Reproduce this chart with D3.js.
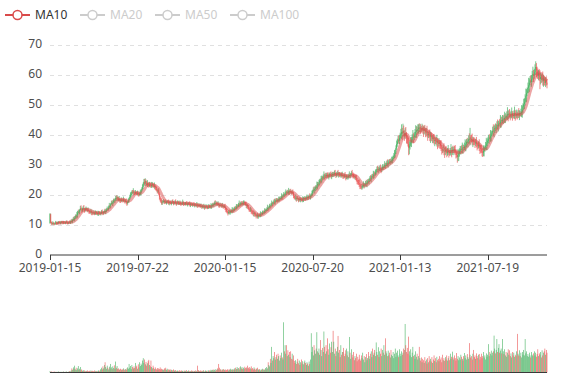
<!DOCTYPE html>
<html>
<head>
<meta charset="utf-8">
<script src="https://cdn.jsdelivr.net/npm/d3@7/dist/d3.min.js"></script>
<style>
  html, body { margin: 0; padding: 0; background: #fff; }
  svg { display: block; font-family: "Noto Sans", "DejaVu Sans", sans-serif; }
</style>
</head>
<body>
<svg id="chart" width="577" height="380"></svg>
<script>
// ---------- data ----------
const startDate = "2019-01-15";
const holidays = [
  "2019-02-04","2019-02-05","2019-02-06","2019-02-07","2019-02-08","2019-04-05",
  "2019-05-01","2019-05-02","2019-05-03","2019-06-07","2019-10-01","2019-12-25",
  "2020-01-01","2020-01-24","2020-01-27","2020-01-28","2020-01-29","2020-01-30",
  "2020-01-31","2020-04-06","2020-05-01","2020-06-25","2020-10-01","2020-10-02",
  "2021-01-01","2021-02-11","2021-02-12","2021-02-15","2021-02-16","2021-02-17",
  "2021-04-05","2021-05-03","2021-05-04","2021-05-05","2021-09-20","2021-09-21",
  "2021-10-01","2021-10-04","2021-10-05","2021-10-06","2021-10-07"
];
const tickLabels = ["2019-01-15","2019-07-22","2020-01-15","2020-07-20","2021-01-13","2021-07-19"];
const priceTicks = [0,10,20,30,40,50,60,70];
const legendNames = ["MA10","MA20","MA50","MA100"];
const activeLegend = ["MA10"];

const closePrices = [
13.5,10.6,10.4,10.2,10.5,10.3,10.1,10.4,10.6,10.5,
10.3,10.6,10.8,10.7,10.5,10.6,10.9,10.7,10.6,10.8,
10.6,10.5,10.7,10.9,10.6,10.4,10.6,10.8,
10.7,10.9,11.2,11.0,11.5,11.9,11.7,12.3,12.8,12.6,13.2,13.9,
14.3,14.0,14.8,15.4,15.1,14.7,15.2,15.5,15.0,14.8,15.1,15.3,14.9,14.6,14.8,14.4,
14.2,14.0,14.3,13.9,13.7,14.0,13.8,13.6,13.9,14.1,13.8,13.5,13.7,14.0,13.8,13.6,13.9,14.2,14.0,13.8,14.1,14.4,14.2,
14.6,14.9,15.3,15.1,15.7,16.2,16.0,16.8,17.2,16.9,17.5,18.0,17.7,18.3,18.8,18.5,19.1,
18.6,18.2,18.5,18.0,17.8,18.3,18.1,17.9,18.4,18.0,17.6,17.8,17.3,17.1,17.5,
18.0,18.6,19.2,19.8,20.3,20.9,20.6,21.0,20.7,20.4,20.8,20.5,20.1,20.4,20.2,19.9,20.3,20.6,21.2,21.8,
22.5,23.4,24.2,23.6,24.5,23.8,23.2,23.7,23.3,22.9,23.4,23.1,22.7,23.2,23.5,23.0,22.6,22.9,22.4,21.9,
21.5,21.0,21.3,20.2,19.1,18.3,17.6,17.3,17.7,17.5,
17.8,17.4,17.6,17.3,17.5,17.7,17.4,17.2,17.5,17.3,17.0,17.3,17.6,17.4,17.1,17.3,17.5,17.2,17.0,17.2,
17.4,17.1,16.9,17.2,17.0,16.8,17.1,17.3,17.0,16.8,16.9,17.2,17.0,16.7,16.9,17.1,16.8,16.6,16.9,16.7,
16.5,16.8,16.6,16.4,16.7,16.5,16.3,16.6,16.4,16.2,16.5,16.3,16.0,16.2,15.9,
16.1,15.8,16.0,15.7,15.9,16.1,15.8,15.6,15.9,16.2,16.0,15.8,16.1,16.3,16.6,16.4,16.8,17.1,16.9,17.2,
17.0,16.7,16.9,16.5,16.2,16.5,16.3,16.0,16.4,16.1,15.8,16.0,
15.5,15.0,14.6,14.0,13.8,14.2,13.9,14.1,14.5,14.3,14.8,15.0,14.7,15.2,15.6,15.4,15.9,16.3,16.1,16.6,16.9,16.7,17.1,
16.8,17.2,16.9,17.1,17.4,17.0,16.6,16.2,16.4,15.8,15.3,15.0,14.7,14.9,14.4,14.0,13.7,13.5,13.8,13.3,13.0,12.8,13.1,12.6,12.9,
13.2,13.0,13.4,13.7,13.5,13.9,14.2,14.0,14.5,14.8,14.6,15.1,15.5,15.3,15.8,16.2,16.0,16.6,17.0,16.8,
17.3,17.6,17.4,17.9,18.2,17.9,18.3,18.0,18.4,18.7,18.5,18.9,19.3,19.1,19.6,20.0,19.8,20.3,20.7,20.5,21.0,
20.6,21.1,20.8,21.2,20.9,20.6,20.8,20.3,19.6,19.0,18.7,18.9,18.5,18.8,18.4,18.1,18.4,18.2,18.5,18.3,
18.1,18.4,18.7,18.5,18.8,18.6,18.9,19.1,18.9,19.2,19.4,19.2,19.5,19.8,
20.4,21.0,21.6,21.3,21.9,22.4,22.2,23.0,23.5,23.3,24.0,24.6,24.3,25.0,25.6,25.4,25.9,26.3,26.1,26.4,
26.2,26.6,26.3,26.0,26.4,26.7,26.5,26.2,26.5,26.8,26.6,26.9,27.1,26.8,26.5,26.8,27.0,26.7,26.9,26.6,
26.4,26.7,26.3,26.5,26.2,26.0,26.3,26.1,25.8,26.0,25.7,25.9,26.2,26.5,26.3,26.7,27.0,26.8,26.5,26.1,
25.8,25.9,25.4,24.9,24.5,24.1,23.8,23.4,23.0,22.7,22.4,22.6,
22.9,23.2,23.0,23.4,23.7,23.5,24.0,24.4,24.2,24.8,25.3,25.1,25.7,26.2,26.0,26.6,27.0,26.8,27.4,27.9,
28.4,28.1,28.6,28.3,28.8,28.5,28.2,28.7,29.1,28.9,29.4,29.8,29.5,30.0,30.4,30.1,30.6,30.9,30.7,31.2,
31.0,31.4,31.8,32.3,32.9,33.4,34.2,35.5,36.8,37.6,38.3,37.9,38.8,39.5,
40.1,40.8,40.3,41.2,40.5,39.6,40.4,39.8,38.9,38.2,36.8,35.6,36.3,36.9,37.4,38.1,38.6,39.3,39.0,39.8,
40.3,40.9,41.5,41.1,41.8,42.3,41.9,42.4,42.0,41.6,42.1,41.7,41.3,41.8,
41.2,40.7,40.9,40.3,39.8,40.1,39.6,39.3,39.7,39.1,38.6,38.9,38.3,37.9,38.2,37.8,37.4,37.7,37.2,36.9,
37.3,36.8,36.2,35.6,35.1,34.7,35.0,34.5,34.3,34.8,34.4,33.9,34.3,34.6,34.1,33.8,34.2,34.7,34.4,34.9,
34.6,35.0,34.7,34.3,33.8,33.2,32.5,33.1,33.7,34.3,
34.8,35.2,34.9,35.4,35.8,35.5,36.0,36.3,36.9,37.5,37.2,37.9,38.4,38.1,39.0,38.6,38.2,37.8,38.1,37.6,
37.3,37.0,37.4,36.8,36.5,36.1,36.4,35.9,35.5,35.1,34.6,34.2,33.9,34.5,35.1,35.7,36.2,36.8,37.3,37.9,
38.4,39.0,38.7,39.5,40.1,40.6,41.2,41.0,41.7,42.2,42.0,42.6,43.1,42.8,43.5,43.9,43.7,44.3,44.8,44.5,
45.0,45.3,45.0,45.6,46.0,45.7,46.3,46.8,46.5,47.0,46.7,46.3,46.6,46.9,46.5,46.2,46.6,47.0,46.7,46.4,
46.8,46.5,46.9,46.6,47.1,46.8,47.2,47.6,48.3,49.2,
50.1,50.9,51.8,52.9,53.8,54.6,55.5,56.4,57.2,58.0,57.5,58.6,59.5,60.2,59.6,60.8,61.6,62.5,61.4,60.3,
59.6,60.4,59.1,58.5,59.3,58.2,58.8,57.9,58.6,57.6,57.2,58.1,57.3,56.6
];

const openPrices = [
10.4,13.4,10.7,10.4,10.2,10.5,10.3,10.1,10.4,10.6,
10.5,10.3,10.6,10.8,10.7,10.5,10.6,10.9,10.7,10.6,
10.8,10.6,10.5,10.7,10.9,10.6,10.4,10.6,
10.8,10.7,10.9,11.2,11.0,11.5,11.9,11.7,12.3,12.8,12.6,13.2,
13.9,14.3,14.0,14.8,15.4,15.1,14.7,15.2,15.5,15.0,14.8,15.1,15.3,14.9,14.6,14.8,
14.4,14.2,14.0,14.3,13.9,13.7,14.0,13.8,13.6,13.9,14.1,13.8,13.5,13.7,14.0,13.8,13.6,13.9,14.2,14.0,13.8,14.1,14.4,
14.2,14.6,14.9,15.3,15.1,15.7,16.2,16.0,16.8,17.2,16.9,17.5,18.0,17.7,18.3,18.8,18.5,
19.1,18.6,18.2,18.5,18.0,17.8,18.3,18.1,17.9,18.4,18.0,17.6,17.8,17.3,17.1,
17.5,18.0,18.6,19.2,19.8,20.3,20.9,20.6,21.0,20.7,20.4,20.8,20.5,20.1,20.4,20.2,19.9,20.3,20.6,21.2,
21.8,22.5,23.4,24.2,23.6,24.5,23.8,23.2,23.7,23.3,22.9,23.4,23.1,22.7,23.2,23.5,23.0,22.6,22.9,22.4,
21.9,21.5,21.0,21.3,20.2,19.1,18.3,17.6,17.3,17.7,
17.5,17.8,17.4,17.6,17.3,17.5,17.7,17.4,17.2,17.5,17.3,17.0,17.3,17.6,17.4,17.1,17.3,17.5,17.2,17.0,
17.2,17.4,17.1,16.9,17.2,17.0,16.8,17.1,17.3,17.0,16.8,16.9,17.2,17.0,16.7,16.9,17.1,16.8,16.6,16.9,
16.7,16.5,16.8,16.6,16.4,16.7,16.5,16.3,16.6,16.4,16.2,16.5,16.3,16.0,16.2,
15.9,16.1,15.8,16.0,15.7,15.9,16.1,15.8,15.6,15.9,16.2,16.0,15.8,16.1,16.3,16.6,16.4,16.8,17.1,16.9,
17.2,17.0,16.7,16.9,16.5,16.2,16.5,16.3,16.0,16.4,16.1,15.8,
16.0,15.5,15.0,14.6,14.0,13.8,14.2,13.9,14.1,14.5,14.3,14.8,15.0,14.7,15.2,15.6,15.4,15.9,16.3,16.1,16.6,16.9,16.7,
17.1,16.8,17.2,16.9,17.1,17.4,17.0,16.6,16.2,16.4,15.8,15.3,15.0,14.7,14.9,14.4,14.0,13.7,13.5,13.8,13.3,13.0,12.8,13.1,12.6,
12.9,13.2,13.0,13.4,13.7,13.5,13.9,14.2,14.0,14.5,14.8,14.6,15.1,15.5,15.3,15.8,16.2,16.0,16.6,17.0,
16.8,17.3,17.6,17.4,17.9,18.2,17.9,18.3,18.0,18.4,18.7,18.5,18.9,19.3,19.1,19.6,20.0,19.8,20.3,20.7,20.5,
21.0,20.6,21.1,20.8,21.2,20.9,20.6,20.8,20.3,19.6,19.0,18.7,18.9,18.5,18.8,18.4,18.1,18.4,18.2,18.5,
18.3,18.1,18.4,18.7,18.5,18.8,18.6,18.9,19.1,18.9,19.2,19.4,19.2,19.5,
19.8,20.4,21.0,21.6,21.3,21.9,22.4,22.2,23.0,23.5,23.3,24.0,24.6,24.3,25.0,25.6,25.4,25.9,26.3,26.1,
26.4,26.2,26.6,26.3,26.0,26.4,26.7,26.5,26.2,26.5,26.8,26.6,26.9,27.1,26.8,26.5,26.8,27.0,26.7,26.9,
26.6,26.4,26.7,26.3,26.5,26.2,26.0,26.3,26.1,25.8,26.0,25.7,25.9,26.2,26.5,26.3,26.7,27.0,26.8,26.5,
26.1,25.8,25.9,25.4,24.9,24.5,24.1,23.8,23.4,23.0,22.7,22.4,
22.6,22.9,23.2,23.0,23.4,23.7,23.5,24.0,24.4,24.2,24.8,25.3,25.1,25.7,26.2,26.0,26.6,27.0,26.8,27.4,
27.9,28.4,28.1,28.6,28.3,28.8,28.5,28.2,28.7,29.1,28.9,29.4,29.8,29.5,30.0,30.4,30.1,30.6,30.9,30.7,
31.2,31.0,31.4,31.8,32.3,32.9,33.4,34.2,35.5,36.8,37.6,38.3,37.9,38.8,
39.5,40.1,40.8,40.3,41.2,40.5,39.6,40.4,39.8,38.9,38.2,36.8,35.6,36.3,36.9,37.4,38.1,38.6,39.3,39.0,
39.8,40.3,40.9,41.5,41.1,41.8,42.3,41.9,42.4,42.0,41.6,42.1,41.7,41.3,
41.8,41.2,40.7,40.9,40.3,39.8,40.1,39.6,39.3,39.7,39.1,38.6,38.9,38.3,37.9,38.2,37.8,37.4,37.7,37.2,
36.9,37.3,36.8,36.2,35.6,35.1,34.7,35.0,34.5,34.3,34.8,34.4,33.9,34.3,34.6,34.1,33.8,34.2,34.7,34.4,
34.9,34.6,35.0,34.7,34.3,33.8,33.2,32.5,33.1,33.7,
34.3,34.8,35.2,34.9,35.4,35.8,35.5,36.0,36.3,36.9,37.5,37.2,37.9,38.4,38.1,39.0,38.6,38.2,37.8,38.1,
37.6,37.3,37.0,37.4,36.8,36.5,36.1,36.4,35.9,35.5,35.1,34.6,34.2,33.9,34.5,35.1,35.7,36.2,36.8,37.3,
37.9,38.4,39.0,38.7,39.5,40.1,40.6,41.2,41.0,41.7,42.2,42.0,42.6,43.1,42.8,43.5,43.9,43.7,44.3,44.8,
44.5,45.0,45.3,45.0,45.6,46.0,45.7,46.3,46.8,46.5,47.0,46.7,46.3,46.6,46.9,46.5,46.2,46.6,47.0,46.7,
46.4,46.8,46.5,46.9,46.6,47.1,46.8,47.2,47.6,48.3,
49.2,50.1,50.9,51.8,52.9,53.8,54.6,55.5,56.4,57.2,58.0,57.5,58.6,59.5,60.2,59.6,60.8,61.6,62.5,61.4,
60.3,59.6,60.4,59.1,58.5,59.3,58.2,58.8,57.9,58.6,57.6,57.2,58.1,57.3
];

const highPrices = [
13.8,13.6,11.0,10.8,11.1,10.8,10.5,10.8,11.2,11.0,
10.8,11.0,11.1,11.1,11.2,11.0,11.2,11.2,11.2,11.2,
11.1,11.1,10.9,11.3,11.4,10.9,10.8,11.1,
11.4,11.3,11.7,11.9,11.9,12.5,12.7,12.8,13.3,13.4,14.2,14.5,
14.9,15.0,15.2,16.2,16.4,15.6,15.6,16.2,16.5,15.5,15.6,16.0,15.6,15.4,15.7,15.2,
14.7,14.7,15.2,14.7,14.3,14.7,14.3,14.3,14.7,14.6,14.4,14.3,14.6,14.5,14.4,14.4,14.2,14.8,15.0,14.4,14.5,15.0,15.3,
15.1,15.4,16.0,15.6,16.3,17.2,16.6,17.2,17.9,18.1,18.0,18.6,18.6,18.7,19.5,19.7,19.7,
19.4,19.2,19.5,18.9,18.5,19.0,18.6,18.6,19.3,18.8,18.3,18.4,18.7,17.8,18.0,
18.7,19.0,19.9,20.7,20.9,21.4,21.5,22.1,21.5,21.1,21.5,21.1,21.0,21.3,20.9,20.5,20.9,21.6,21.7,22.4,
23.4,24.0,25.2,25.2,25.4,25.0,24.4,24.8,24.2,23.8,24.2,23.8,23.7,24.2,24.1,23.9,23.6,24.0,23.4,22.9,
22.6,21.9,22.0,22.1,20.7,19.5,18.9,18.7,18.2,18.2,
18.5,18.1,18.1,18.4,17.9,18.1,18.2,18.3,17.9,17.9,17.9,17.6,18.2,18.4,17.8,17.6,18.1,18.4,17.6,17.7,
18.1,17.7,17.6,18.0,17.6,17.3,17.6,18.3,17.7,17.4,17.5,17.5,17.7,17.8,17.3,17.4,17.6,17.7,17.3,17.3,
17.3,17.1,17.3,17.4,17.1,17.0,17.0,17.5,17.0,16.8,17.1,16.8,16.8,17.0,16.6,
16.5,16.6,16.9,16.4,16.3,16.8,16.4,16.3,16.7,16.7,16.6,16.5,17.1,16.8,17.1,17.3,17.2,17.7,18.1,17.8,
17.6,17.5,17.8,17.3,16.9,17.2,16.8,16.8,17.2,16.8,16.4,16.6,
16.9,16.0,15.5,15.2,14.4,14.8,15.0,14.6,14.9,15.0,15.8,15.6,15.4,15.9,16.0,16.2,16.8,16.8,16.7,17.2,18.0,17.3,17.6,
17.8,17.6,17.8,18.0,18.0,17.8,17.6,17.6,16.9,16.9,16.5,15.7,15.6,15.8,15.4,14.8,14.6,14.7,14.3,14.3,14.0,13.4,13.7,13.9,13.4,
13.6,13.7,14.4,14.2,14.1,14.6,14.6,14.7,15.4,15.3,15.1,15.7,16.6,15.9,16.3,16.9,16.6,17.2,18.0,17.5,
17.7,18.3,18.6,18.4,18.8,18.8,18.7,18.8,19.3,19.3,19.1,19.5,20.4,19.8,20.2,20.8,20.4,21.0,21.7,21.2,21.5,
21.6,22.2,21.6,21.8,21.9,21.3,21.4,21.7,20.8,20.0,19.6,20.0,19.4,19.3,19.5,18.8,19.0,19.3,19.0,18.9,
18.9,19.4,19.2,19.2,19.5,19.2,19.5,20.0,19.6,19.6,20.0,20.4,20.0,20.3,
21.3,21.6,22.4,22.7,22.6,23.0,23.1,24.3,24.2,24.1,24.9,25.2,25.3,26.2,26.3,26.1,26.7,27.7,26.9,27.1,
27.3,27.2,27.3,27.4,27.0,27.3,27.4,27.7,27.2,27.5,27.6,27.5,28.0,28.2,27.4,27.4,27.8,28.2,27.5,27.5,
27.4,27.2,27.4,27.6,27.1,26.7,27.0,27.5,26.7,26.6,26.8,26.4,26.9,27.7,27.1,27.2,27.8,28.2,27.4,27.1,
26.9,26.4,26.6,26.5,25.5,25.0,24.8,25.0,24.0,23.6,23.5,23.2,
23.7,24.4,23.8,23.9,24.5,24.9,24.7,25.1,25.2,25.4,26.1,26.4,26.4,26.8,26.9,27.9,27.7,27.6,28.3,28.5,
29.3,29.6,29.3,29.2,29.6,30.0,29.2,29.4,30.1,29.7,30.2,31.1,30.5,30.7,31.3,31.7,31.4,31.7,31.8,31.9,
32.0,32.6,32.6,33.0,33.8,34.8,35.0,36.4,38.0,38.6,39.5,39.8,39.9,40.6,
41.9,43.4,42.2,43.6,43.0,41.4,42.1,42.5,40.8,39.8,39.6,39.0,37.7,38.2,39.1,39.2,40.1,41.5,40.4,40.8,
41.8,43.1,42.8,42.6,43.4,43.4,43.7,43.6,43.4,42.8,43.6,43.2,42.8,43.0,
43.2,42.1,42.2,42.9,41.2,40.9,41.4,41.7,40.9,40.7,40.5,39.8,40.1,40.2,39.2,38.9,39.1,39.9,38.7,38.2,
38.8,38.1,38.0,38.1,36.5,35.8,36.4,37.1,35.6,35.8,36.2,35.2,35.5,36.5,35.5,34.8,35.5,36.8,35.8,36.0,
36.3,35.9,36.2,36.5,35.1,34.4,34.4,35.2,34.8,35.4,
36.2,36.1,36.4,37.3,36.7,36.5,37.3,38.4,38.0,38.5,38.9,38.7,39.7,40.4,42.2,39.8,39.9,40.3,39.2,39.1,
39.0,38.1,38.6,39.2,37.7,37.2,37.7,38.4,37.0,36.5,36.5,35.4,35.4,36.4,36.0,36.4,37.5,38.9,38.4,39.0,
39.9,39.9,40.2,41.5,41.1,41.4,42.6,43.4,42.9,43.3,43.7,43.5,44.4,45.0,44.5,44.7,45.2,46.5,46.0,45.8,
46.5,46.3,46.6,47.6,47.1,46.7,47.7,49.1,47.9,48.2,48.5,47.4,47.9,49.0,47.8,47.2,48.0,49.3,48.2,47.7,
48.3,47.6,48.2,48.8,48.1,47.8,48.6,49.8,49.6,50.4,
51.9,52.1,53.4,55.3,55.1,55.7,57.3,58.9,58.7,59.5,59.7,59.8,61.2,62.6,61.5,61.9,63.4,64.4,63.8,62.6,
62.0,61.5,61.8,61.4,60.5,60.0,60.3,61.0,59.8,59.6,59.1,59.1,59.4,58.4
];

const lowPrices = [
10.3,10.4,9.9,9.8,9.9,9.9,9.7,9.9,10.0,9.9,
10.0,10.1,10.2,10.4,10.2,10.1,10.3,10.5,10.2,10.1,
10.3,10.3,10.1,10.4,10.3,10.0,10.1,10.4,
10.3,10.2,10.4,10.7,10.4,11.1,11.2,11.0,11.8,12.2,11.9,12.3,
13.3,13.6,13.4,14.3,14.6,13.9,14.2,14.8,14.3,13.9,14.3,14.7,14.3,14.1,14.1,13.6,
13.6,13.7,13.4,13.1,13.1,13.4,13.2,13.1,13.2,13.2,13.3,13.1,12.9,12.9,13.3,13.2,13.0,13.5,13.6,13.1,13.3,13.8,13.6,
13.4,14.1,14.6,14.5,14.7,15.3,15.2,15.5,16.5,16.3,16.1,17.0,17.3,17.1,17.9,18.0,17.8,
18.0,17.8,17.6,17.2,17.2,17.5,17.4,17.4,17.5,17.3,17.0,17.3,16.7,16.2,16.6,
17.2,17.4,18.2,18.7,19.1,19.8,20.2,20.0,19.8,19.8,20.1,19.8,19.7,19.7,19.4,19.3,19.6,19.7,19.8,20.7,
21.4,21.8,22.9,23.0,22.8,23.2,22.8,22.5,22.4,22.3,22.5,22.4,22.2,22.2,22.4,22.4,22.2,21.9,21.5,21.3,
21.0,20.3,20.5,19.7,18.3,17.7,17.2,16.6,16.5,16.9,
17.2,16.8,17.0,16.9,16.6,17.0,17.1,16.6,16.4,16.8,16.7,16.4,16.9,17.0,16.4,16.6,17.0,16.6,16.2,16.5,
16.9,16.5,16.5,16.5,16.3,16.3,16.5,16.5,16.2,16.3,16.5,16.3,16.6,16.3,16.0,16.4,16.5,16.0,15.8,16.2,
16.2,15.9,16.2,16.0,15.7,16.0,16.0,15.7,15.6,15.7,15.9,15.7,15.6,15.6,15.2,
15.4,15.5,15.2,14.9,15.2,15.6,15.2,15.1,15.2,15.2,15.5,15.5,15.2,15.3,15.8,16.1,15.8,16.4,16.5,16.2,
16.4,16.4,16.1,15.7,15.6,15.9,15.7,15.6,15.6,15.4,15.3,15.5,
14.8,14.1,14.0,13.6,13.0,13.4,13.5,13.2,13.6,14.0,13.7,14.0,14.2,14.4,14.6,14.9,15.0,15.2,15.5,15.8,16.0,15.8,16.2,
16.4,16.2,16.5,16.5,16.4,16.5,16.2,15.5,15.3,15.2,14.9,14.3,14.2,14.2,13.6,13.4,13.3,12.8,12.6,12.7,12.6,12.0,12.4,12.0,11.9,
12.3,12.6,12.4,12.6,12.9,13.2,13.3,13.5,13.6,13.8,14.0,14.3,14.5,14.4,14.8,15.4,15.3,15.6,16.1,16.0,
16.3,16.9,16.7,16.6,17.4,17.5,17.3,17.5,17.6,17.7,17.9,18.2,18.3,18.2,18.6,19.3,19.1,19.4,19.8,19.7,20.0,
20.2,19.9,19.9,20.2,20.5,19.9,20.1,19.8,18.8,18.4,18.3,18.0,17.6,17.9,18.0,17.4,17.6,17.7,17.4,17.7,
17.7,17.4,17.5,17.9,18.1,17.9,18.1,18.4,18.1,18.3,18.8,18.5,18.3,18.9,
19.3,19.6,20.4,20.7,20.3,21.2,21.7,21.4,21.9,22.6,22.8,23.2,23.7,23.7,24.0,24.7,24.9,25.1,25.0,25.4,
25.6,25.4,25.7,25.4,25.0,25.7,26.0,25.4,25.1,25.8,26.1,25.8,26.3,26.2,25.5,25.8,26.3,25.9,25.6,25.9,
25.9,25.6,25.7,25.7,25.2,25.3,25.5,25.3,24.7,25.1,25.2,24.9,25.3,25.6,25.3,25.6,26.2,26.0,25.4,25.4,
25.3,25.0,24.8,24.3,23.4,23.3,23.2,22.5,21.8,21.9,21.7,21.6,
22.0,22.3,22.0,22.3,22.9,22.7,22.4,23.3,23.7,23.4,24.2,24.5,24.1,25.0,25.5,25.2,25.5,26.1,26.3,26.6,
27.3,27.5,27.1,27.6,27.8,27.7,27.1,27.5,28.2,28.1,28.3,28.8,28.5,28.8,29.5,29.3,29.0,29.9,30.2,29.9,
30.3,30.4,30.4,31.1,31.8,32.1,32.3,33.5,34.9,35.9,36.9,37.0,36.8,38.0,
38.6,38.6,38.1,39.1,39.5,37.9,38.6,38.6,37.0,37.0,36.0,33.1,33.4,35.0,36.0,35.8,37.1,37.5,37.1,38.1,
39.0,38.9,38.9,39.8,40.3,40.3,40.8,40.8,40.1,40.6,40.9,40.3,39.2,40.0,
40.3,39.1,39.6,39.1,37.9,38.8,38.9,37.8,37.2,37.9,37.7,37.1,37.2,36.7,36.1,36.8,36.6,36.0,35.1,35.6,
36.1,35.3,35.2,34.5,33.3,33.8,34.0,33.1,32.2,33.1,33.6,32.4,32.9,33.2,32.3,32.9,33.2,32.9,32.4,33.2,
33.8,33.1,33.7,33.2,32.0,32.3,30.6,31.1,31.2,32.6,
33.5,33.3,33.9,33.8,33.6,34.6,34.8,34.6,34.4,35.7,36.4,35.7,36.9,37.0,36.4,37.6,37.5,36.4,35.8,36.4,
36.5,35.5,36.1,35.7,34.7,35.2,35.4,34.5,33.5,33.9,33.8,32.7,32.5,32.8,32.7,34.2,35.0,34.8,34.8,36.1,
37.1,36.9,37.7,37.6,37.7,39.2,39.9,39.6,39.1,40.5,41.2,40.5,41.6,41.7,41.0,42.6,43.0,42.3,42.3,43.3,
43.7,43.5,43.9,43.9,43.8,44.8,45.0,44.9,44.4,45.3,45.8,44.7,45.3,45.5,44.6,45.2,45.5,45.2,44.6,45.1,
45.5,45.0,45.5,45.5,44.8,45.9,46.1,45.8,45.6,47.1,
48.3,48.5,49.8,50.6,50.9,52.7,53.7,53.9,54.2,55.9,56.4,55.9,57.4,58.2,57.5,58.6,59.9,59.9,59.2,58.7,
58.5,58.1,57.9,55.1,56.7,57.2,57.4,56.3,55.9,56.4,56.3,55.8,56.3,55.4
];

const volumes = [
4,2,3,2,1,2,3,1,2,2,1,2,3,2,1,2,2,1,2,3,
2,1,2,3,2,1,2,3,4,3,6,12,8,15,10,20,9,14,7,12,
19,8,11,16,6,9,5,7,4,6,3,5,4,6,3,4,5,3,6,4,
5,3,4,6,3,5,4,3,5,6,4,7,10,14,9,18,12,22,30,16,
11,20,14,9,17,12,25,15,10,18,13,21,11,32,14,19,10,12,8,9,
11,7,10,8,12,9,7,10,8,12,15,11,25,14,19,10,22,16,12,18,
13,28,17,20,11,24,15,30,19,26,22,35,42,28,38,24,31,20,27,33,
37,22,18,35,16,12,20,14,10,15,11,9,13,8,12,10,15,9,11,8,
10,7,12,9,14,8,11,6,9,7,10,6,8,5,7,9,6,5,7,4,
6,5,4,7,3,5,6,4,5,3,6,4,5,7,3,4,6,5,3,4,
5,6,4,3,5,4,6,3,5,20,7,5,4,6,3,5,4,7,5,3,
6,4,5,3,7,4,6,5,8,6,7,9,6,8,5,10,7,12,9,25,
14,8,10,6,9,7,10,8,6,9,7,8,10,6,9,7,11,8,10,7,
9,12,8,14,10,16,11,13,9,15,18,12,16,10,14,11,17,13,15,12,
20,14,11,16,12,18,10,13,9,15,11,8,12,10,14,9,7,10,6,9,
8,11,7,10,8,13,9,16,12,30,22,18,40,28,75,35,48,42,60,38,
45,52,40,55,48,35,50,42,58,44,38,147,62,80,55,80,48,65,52,60,
45,62,40,55,38,50,34,28,36,25,32,40,27,35,22,30,38,26,33,24,
30,35,28,22,30,26,20,32,25,38,115,60,75,50,80,65,55,70,118,62,
58,70,52,95,66,48,72,60,120,75,55,80,62,100,68,52,85,58,74,90,
60,122,90,55,70,48,62,75,107,58,66,45,80,52,60,60,72,48,55,65,
70,50,62,45,104,58,40,68,52,44,60,36,48,42,55,33,46,38,52,40,
35,50,42,58,38,48,30,45,54,36,42,60,48,40,55,62,45,70,52,58,
66,48,88,60,52,74,45,62,55,70,48,66,58,80,52,100,62,56,48,64,
50,58,44,66,52,48,60,42,55,70,46,58,64,50,45,68,55,48,62,52,
58,70,66,142,80,60,72,55,105,62,50,68,45,58,75,48,52,40,62,46,
55,38,48,75,42,35,44,30,40,36,28,45,33,38,26,42,30,48,35,40,
32,45,28,38,50,34,42,30,46,36,40,33,48,38,44,30,52,36,42,34,
45,38,50,35,42,48,36,55,40,46,61,44,38,50,42,35,57,40,48,36,
44,38,52,46,40,35,48,57,42,50,38,54,45,40,86,52,44,48,38,55,
66,45,50,40,56,48,42,52,54,38,46,55,42,48,60,44,50,38,56,46,
52,83,48,60,55,64,50,58,62,108,70,56,66,98,60,72,83,58,64,70,
56,98,62,54,68,50,60,46,58,68,52,65,48,56,44,60,50,58,46,52,
48,62,113,55,50,65,48,58,44,60,52,66,50,98,56,62,48,54,46,58,
50,44,60,52,48,56,62,50,58,46,54,68,48,56,52,60,44,65,50,58,
62,70,52,66,58
];

// ---------- derived categories (trading days) ----------
const fmt = d3.utcFormat("%Y-%m-%d");
const holidaySet = new Set(holidays);
const dates = [];
{
  let d = new Date(startDate + "T00:00:00Z");
  while (dates.length < closePrices.length) {
    const wd = d.getUTCDay();
    const s = fmt(d);
    if (wd !== 0 && wd !== 6 && !holidaySet.has(s)) dates.push(s);
    d = new Date(d.getTime() + 86400000);
  }
}
const n = closePrices.length;
const idx = d3.range(n);

// MA10 indicator
const ma10 = idx.map(i => (i < 9 ? null : d3.mean(closePrices.slice(i - 9, i + 1))));

// ---------- layout ----------
const svg = d3.select("#chart");
const left = 50, right = 547;
const priceTop = 44.5, priceBottom = 254.5;
const volTop = 311, volBottom = 372.5;

const UP = "#47b262", DOWN = "#eb5454", MA_COLOR = "#d94a4a";
const TEXT = "#4d4d4d", AXIS = "#3a3a3a";

const x = d3.scalePoint().domain(idx).range([left, right]);
const y = d3.scaleLinear().domain([0, 70]).range([priceBottom, priceTop]);
const yv = d3.scaleLinear().domain([0, 180]).range([volBottom, volTop]);

// gridlines
svg.append("g").selectAll("line").data(priceTicks.filter(t => t > 0)).join("line")
  .attr("x1", left).attr("x2", right)
  .attr("y1", d => Math.round(y(d)) + 0.5).attr("y2", d => Math.round(y(d)) + 0.5)
  .attr("stroke", "#e0e0e0").attr("stroke-width", 1).attr("stroke-dasharray", "4,4");

// y labels
svg.append("g").selectAll("text").data(priceTicks).join("text")
  .attr("x", left - 8).attr("y", d => y(d) - 1.2).attr("dy", "0.35em")
  .attr("text-anchor", "end").attr("font-size", 12).attr("fill", TEXT)
  .text(d => d);

// candles
const candleG = svg.append("g");
const isUp = i => closePrices[i] >= openPrices[i];
candleG.selectAll("line").data(idx).join("line")
  .attr("x1", i => x(i)).attr("x2", i => x(i))
  .attr("y1", i => y(highPrices[i])).attr("y2", i => y(lowPrices[i]))
  .attr("stroke", i => isUp(i) ? UP : DOWN).attr("stroke-width", 0.7);
candleG.selectAll("rect").data(idx).join("rect")
  .attr("x", i => x(i) - 0.35).attr("width", 0.7)
  .attr("y", i => y(Math.max(openPrices[i], closePrices[i])))
  .attr("height", i => Math.max(0.6, Math.abs(y(openPrices[i]) - y(closePrices[i]))))
  .attr("fill", i => isUp(i) ? UP : DOWN);

// MA10 line
const line = d3.line()
  .defined(i => ma10[i] !== null)
  .x(i => x(i)).y(i => y(ma10[i]))
  .curve(d3.curveMonotoneX);
svg.append("path").datum(idx).attr("d", line)
  .attr("fill", "none").attr("stroke", MA_COLOR)
  .attr("stroke-width", 3).attr("stroke-opacity", 0.5);

// x axis (price grid)
const tickIdx = tickLabels.map(t => dates.indexOf(t)).filter(i => i >= 0);
const xAxisG = svg.append("g");
xAxisG.append("line").attr("x1", left).attr("x2", right)
  .attr("y1", priceBottom + 0.5).attr("y2", priceBottom + 0.5)
  .attr("stroke", AXIS).attr("stroke-width", 1);
xAxisG.selectAll(".tk").data(tickIdx).join("line").attr("class", "tk")
  .attr("x1", i => Math.round(x(i)) + 0.5).attr("x2", i => Math.round(x(i)) + 0.5)
  .attr("y1", priceBottom + 0.5).attr("y2", priceBottom + 5.5)
  .attr("stroke", AXIS).attr("stroke-width", 1);
xAxisG.selectAll("text").data(tickIdx).join("text")
  .attr("x", i => x(i)).attr("y", priceBottom + 17)
  .attr("text-anchor", "middle").attr("font-size", 12).attr("fill", TEXT)
  .text(i => dates[i]);

// volume bars
svg.append("g").selectAll("rect").data(idx).join("rect")
  .attr("x", i => x(i) - 0.3).attr("width", 0.6)
  .attr("y", i => yv(volumes[i]))
  .attr("height", i => yv(0) - yv(volumes[i]))
  .attr("fill", i => isUp(i) ? UP : DOWN);

// volume axis line
svg.append("line").attr("x1", left).attr("x2", right)
  .attr("y1", volBottom).attr("y2", volBottom)
  .attr("stroke", AXIS).attr("stroke-width", 1);

// legend
const legG = svg.append("g");
legendNames.forEach((name, k) => {
  const x0 = 5 + k * 75;
  const active = activeLegend.includes(name);
  const c = active ? MA_COLOR : "#cccccc";
  const g = legG.append("g");
  g.append("line").attr("x1", x0).attr("x2", x0 + 25).attr("y1", 15).attr("y2", 15)
    .attr("stroke", c).attr("stroke-width", 2);
  g.append("circle").attr("cx", x0 + 12.5).attr("cy", 15).attr("r", 4.5)
    .attr("fill", "#fff").attr("stroke", c).attr("stroke-width", 1.5);
  g.append("text").attr("x", x0 + 30).attr("y", 15).attr("dy", "0.35em")
    .attr("font-size", 12).attr("fill", active ? "#333" : "#cccccc").text(name);
});
</script>
</body>
</html>
